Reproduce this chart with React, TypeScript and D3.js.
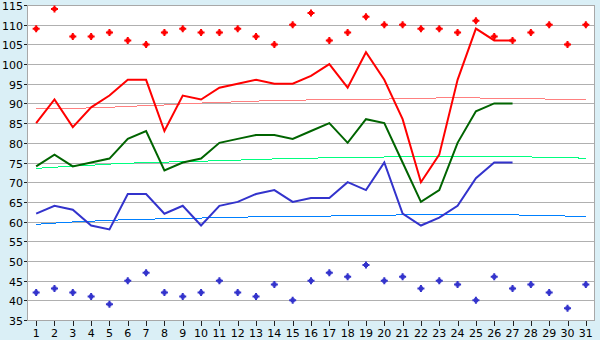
import React from "react";
import * as d3 from "d3";

const days = d3.range(1, 32).map(String);
const yTicks = [35, 40, 45, 50, 55, 60, 65, 70, 75, 80, 85, 90, 95, 100, 105, 110, 115];

const maxPoints = [109, 114, 107, 107, 108, 106, 105, 108, 109, 108, 108, 109, 107, 105, 110, 113, 106, 108, 112, 110, 110, 109, 109, 108, 111, 107, 106, 108, 110, 105, 110];
const minPoints = [42, 43, 42, 41, 39, 45, 47, 42, 41, 42, 45, 42, 41, 44, 40, 45, 47, 46, 49, 45, 46, 43, 45, 44, 40, 46, 43, 44, 42, 38, 44];

const highLine = [85, 91, 84, 89, 92, 96, 96, 83, 92, 91, 94, 95, 96, 95, 95, 97, 100, 94, 103, 96, 86, 70, 77, 96, 109, 106, 106];
const avgLine = [74, 77, 74, 75, 76, 81, 83, 73, 75, 76, 80, 81, 82, 82, 81, 83, 85, 80, 86, 85, 75, 65, 68, 80, 88, 90, 90];
const lowLine = [62, 64, 63, 59, 58, 67, 67, 62, 64, 59, 64, 65, 67, 68, 65, 66, 66, 70, 68, 75, 62, 59, 61, 64, 71, 75, 75];

const highTrend = [88.6, 88.6, 88.7, 88.9, 89.0, 89.3, 89.4, 89.6, 89.9, 90.1, 90.3, 90.4, 90.6, 90.7, 90.8, 90.9, 91.0, 91.05, 91.1, 91.1, 91.2, 91.3, 91.4, 91.4, 91.4, 91.3, 91.3, 91.2, 91.1, 91.05, 91.0];
const avgTrend = [73.5, 73.8, 74.1, 74.3, 74.6, 74.8, 75.0, 75.1, 75.2, 75.3, 75.5, 75.6, 75.8, 75.9, 76.0, 76.1, 76.2, 76.3, 76.3, 76.4, 76.5, 76.6, 76.6, 76.6, 76.6, 76.6, 76.6, 76.4, 76.3, 76.2, 76.1];
const lowTrend = [59.3, 59.6, 59.9, 60.1, 60.3, 60.5, 60.6, 60.7, 60.8, 60.9, 61.0, 61.1, 61.2, 61.3, 61.3, 61.4, 61.4, 61.5, 61.6, 61.6, 61.7, 61.7, 61.7, 61.7, 61.7, 61.7, 61.7, 61.6, 61.5, 61.4, 61.3];

const W = 600;
const H = 340;
const L = 27;
const R = 595;
const T = 5;
const B = 320;

const MARKER =
  "M-3.5,-1H-2V-2H-1V-3.5H1V-2H2V-1H3.5V1H2V2H1V3.5H-1V2H-2V1H-3.5Z";

export default function App() {
  const x = d3.scaleBand<string>().domain(days).range([L, R]).padding(0);
  const cx = (i: number) => (x(days[i]) as number) + x.bandwidth() / 2;
  const y = d3.scaleLinear().domain([35, 115]).range([B, T]);

  const line = d3
    .line<number>()
    .x((_, i) => cx(i))
    .y((d) => y(d));

  const font = "'DejaVu Sans', Verdana, sans-serif";

  return (
    <svg
      width={W}
      height={H}
      style={{ position: "absolute", left: 0, top: 0, display: "block" }}
    >
      <rect x={0} y={0} width={W} height={H} fill="#daeff6" />
      <rect x={L} y={T} width={R - L} height={B - T} fill="#ffffff" />
      {yTicks.map((t) => (
        <g key={t}>
          <line
            x1={L}
            x2={R}
            y1={Math.round(y(t)) + 0.5}
            y2={Math.round(y(t)) + 0.5}
            stroke="#b0b0b0"
            strokeWidth={1}
            shapeRendering="crispEdges"
          />
          <line
            x1={L - 3}
            x2={L}
            y1={Math.round(y(t)) + 0.5}
            y2={Math.round(y(t)) + 0.5}
            stroke="#202020"
            strokeWidth={1}
            shapeRendering="crispEdges"
          />
          <text
            x={23}
            y={y(t) + 5}
            textAnchor="end"
            fontFamily={font}
            fontSize={11}
            fill="#000"
          >
            {t}
          </text>
        </g>
      ))}
      {days.map((d, i) => (
        <g key={d}>
          <line
            x1={Math.round(cx(i)) + 0.5}
            x2={Math.round(cx(i)) + 0.5}
            y1={B}
            y2={B + 6}
            stroke="#202020"
            shapeRendering="crispEdges"
          />
          <text
            x={cx(i)}
            y={337}
            textAnchor="middle"
            fontFamily={font}
            fontSize={11}
            fill="#000"
          >
            {d}
          </text>
        </g>
      ))}
      <rect
        x={L + 0.5}
        y={T + 0.5}
        width={R - L - 1}
        height={B - T}
        fill="none"
        stroke="#a8a8a8"
        shapeRendering="crispEdges"
      />

      <path d={line(highTrend) as string} fill="none" stroke="#ff8080" strokeWidth={1} shapeRendering="crispEdges" />
      <path d={line(avgTrend) as string} fill="none" stroke="#00ff80" strokeWidth={1} shapeRendering="crispEdges" />
      <path d={line(lowTrend) as string} fill="none" stroke="#0080ff" strokeWidth={1} shapeRendering="crispEdges" />

      <path d={line(lowLine) as string} fill="none" stroke="#3333cc" strokeWidth={2} />
      <path d={line(avgLine) as string} fill="none" stroke="#006400" strokeWidth={2} />
      <path d={line(highLine) as string} fill="none" stroke="#ff0000" strokeWidth={2} />

      {maxPoints.map((v, i) => (
        <path key={"mx" + i} d={MARKER} transform={`translate(${cx(i)},${y(v)})`} fill="#ff0000" />
      ))}
      {minPoints.map((v, i) => (
        <path key={"mn" + i} d={MARKER} transform={`translate(${cx(i)},${y(v)})`} fill="#3333cc" />
      ))}
    </svg>
  );
}
